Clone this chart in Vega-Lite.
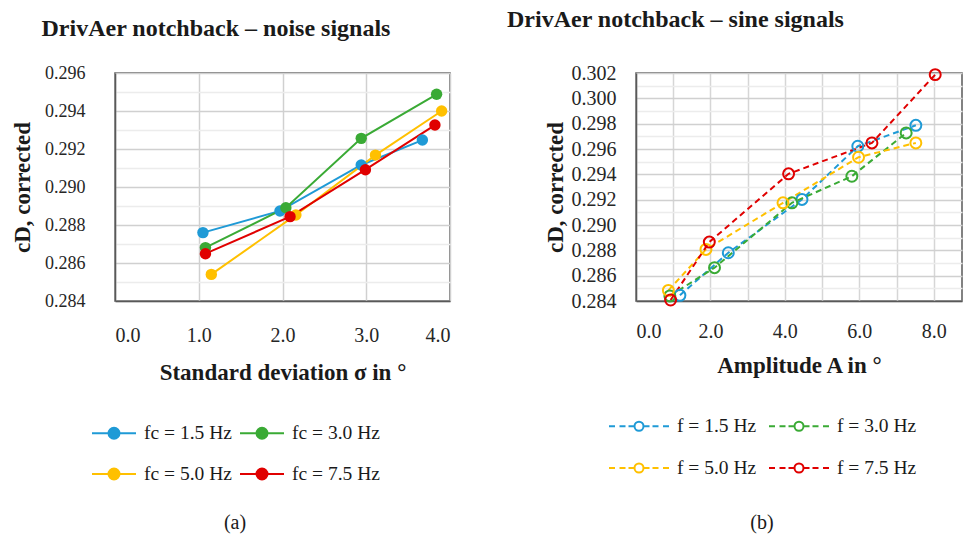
{
  "$schema": "https://vega.github.io/schema/vega-lite/v6.json",
  "background": "white",
  "padding": {"left": 10, "top": 7, "right": 0, "bottom": 0},
  "config": {
    "font": "Liberation Serif",
    "view": {"stroke": "#595959", "strokeWidth": 1.5},
    "axis": {"labelFontSize": 20, "labelColor": "#262626", "titleFontSize": 23, "titleFontWeight": "bold", "titleColor": "#1a1a1a", "ticks": false, "domainColor": "#595959", "domainWidth": 1.5, "gridWidth": 1.5},
    "legend": {"labelFontSize": 19.5, "labelColor": "#1a1a1a", "titleFontSize": 20, "titleColor": "#1a1a1a"},
    "title": {"font": "Liberation Serif", "fontSize": 24, "fontWeight": "bold", "color": "#1a1a1a"}
  },
  "resolve": {"scale": {"color": "independent", "x": "independent", "y": "independent"}, "legend": {"color": "independent"}},
  "spacing": 55,
  "hconcat": [
    {
      "width": 335,
      "height": 228,
      "title": {"text": "DrivAer notchback – noise signals", "anchor": "start", "frame": "bounds", "dx": 30, "offset": 23},
      "data": {"values": [
        {"s": "fc = 1.5 Hz", "x": 1.05, "y": 0.2876},
        {"s": "fc = 1.5 Hz", "x": 1.97, "y": 0.28874},
        {"s": "fc = 1.5 Hz", "x": 2.94, "y": 0.29116},
        {"s": "fc = 1.5 Hz", "x": 3.67, "y": 0.29247},
        {"s": "fc = 3.0 Hz", "x": 1.08, "y": 0.28681},
        {"s": "fc = 3.0 Hz", "x": 2.04, "y": 0.28891},
        {"s": "fc = 3.0 Hz", "x": 2.94, "y": 0.29256},
        {"s": "fc = 3.0 Hz", "x": 3.84, "y": 0.29488},
        {"s": "fc = 5.0 Hz", "x": 1.15, "y": 0.2854},
        {"s": "fc = 5.0 Hz", "x": 2.16, "y": 0.28853},
        {"s": "fc = 5.0 Hz", "x": 3.11, "y": 0.29168},
        {"s": "fc = 5.0 Hz", "x": 3.9, "y": 0.294},
        {"s": "fc = 7.5 Hz", "x": 1.08, "y": 0.28649},
        {"s": "fc = 7.5 Hz", "x": 2.09, "y": 0.28844},
        {"s": "fc = 7.5 Hz", "x": 2.99, "y": 0.29091},
        {"s": "fc = 7.5 Hz", "x": 3.82, "y": 0.29326}
      ]},
      "encoding": {
        "x": {"field": "x", "type": "quantitative", "scale": {"domain": [0, 4], "nice": false},
              "axis": {"title": "Standard deviation σ in °", "values": [0, 1, 2, 3, 4], "format": ".1f", "labelPadding": 24, "titlePadding": 16, "gridColor": "#d0d0d0"}},
        "y": {"field": "y", "type": "quantitative", "scale": {"domain": [0.284, 0.296], "nice": false, "zero": false},
              "axis": {"title": "cD, corrected", "values": [0.284, 0.285, 0.286, 0.287, 0.288, 0.289, 0.29, 0.291, 0.292, 0.293, 0.294, 0.295, 0.296],
                       "labelExpr": "round(datum.value*1000) % 2 == 0 ? format(datum.value, '.3f') : ''",
                       "labelPadding": 30, "titlePadding": 10, "labelFontSize": 18,
                       "gridColor": {"condition": {"test": "round(datum.value*1000) % 2 == 0", "value": "#d0d0d0"}, "value": "#ececec"}}},
        "color": {"field": "s", "type": "nominal",
                  "scale": {"domain": ["fc = 1.5 Hz", "fc = 3.0 Hz", "fc = 5.0 Hz", "fc = 7.5 Hz"], "range": ["#1f9ad6", "#3aaa35", "#ffc000", "#e00000"]},
                  "legend": {"orient": "none", "legendX": -24, "legendY": 337, "columns": 2, "direction": "horizontal",
                             "title": "(a)", "titleOrient": "bottom", "titleAnchor": "middle", "titleFontWeight": "normal", "titlePadding": 29,
                             "symbolType": "M-1,0L1,0M-0.25,0A0.25,0.25 0 1,1 0.25,0A0.25,0.25 0 1,1 -0.25,0Z",
                             "symbolSize": 1936, "symbolStrokeWidth": 2, "symbolOpacity": 1, "labelOffset": 7, "columnPadding": 4, "rowPadding": 8,
                             "encode": {"symbols": {"update": {
                               "fill": {"signal": "datum.value == 'fc = 1.5 Hz' ? '#1f9ad6' : datum.value == 'fc = 3.0 Hz' ? '#3aaa35' : datum.value == 'fc = 5.0 Hz' ? '#ffc000' : '#e00000'"},
                               "stroke": {"signal": "datum.value == 'fc = 1.5 Hz' ? '#1f9ad6' : datum.value == 'fc = 3.0 Hz' ? '#3aaa35' : datum.value == 'fc = 5.0 Hz' ? '#ffc000' : '#e00000'"}}}}}}
      },
      "layer": [
        {"mark": {"type": "line", "strokeWidth": 2}},
        {"mark": {"type": "point", "filled": true, "size": 130, "opacity": 1}}
      ]
    },
    {
      "width": 326,
      "height": 228,
      "title": {"text": "DrivAer notchback – sine signals", "anchor": "start", "frame": "bounds", "dx": -37, "offset": 31},
      "data": {"values": [
        {"s": "f = 1.5 Hz", "x": 1.18, "y": 0.28445},
        {"s": "f = 1.5 Hz", "x": 2.48, "y": 0.28781},
        {"s": "f = 1.5 Hz", "x": 4.46, "y": 0.29202},
        {"s": "f = 1.5 Hz", "x": 5.96, "y": 0.29622},
        {"s": "f = 1.5 Hz", "x": 7.52, "y": 0.29787},
        {"s": "f = 3.0 Hz", "x": 0.91, "y": 0.2844},
        {"s": "f = 3.0 Hz", "x": 2.11, "y": 0.28663},
        {"s": "f = 3.0 Hz", "x": 4.19, "y": 0.29175},
        {"s": "f = 3.0 Hz", "x": 5.8, "y": 0.29385},
        {"s": "f = 3.0 Hz", "x": 7.26, "y": 0.29727},
        {"s": "f = 5.0 Hz", "x": 0.87, "y": 0.28484},
        {"s": "f = 5.0 Hz", "x": 1.88, "y": 0.28807},
        {"s": "f = 5.0 Hz", "x": 3.95, "y": 0.29175},
        {"s": "f = 5.0 Hz", "x": 5.98, "y": 0.29535},
        {"s": "f = 5.0 Hz", "x": 7.52, "y": 0.29648},
        {"s": "f = 7.5 Hz", "x": 0.93, "y": 0.28408},
        {"s": "f = 7.5 Hz", "x": 1.97, "y": 0.28865},
        {"s": "f = 7.5 Hz", "x": 4.1, "y": 0.29404},
        {"s": "f = 7.5 Hz", "x": 6.34, "y": 0.29648},
        {"s": "f = 7.5 Hz", "x": 8.04, "y": 0.30187}
      ]},
      "encoding": {
        "x": {"field": "x", "type": "quantitative", "scale": {"domain": [0, 8.76], "nice": false},
              "axis": {"title": "Amplitude A in °", "values": [0, 1, 2, 3, 4, 5, 6, 7, 8],
                       "labelExpr": "datum.value % 2 == 0 ? format(datum.value, '.1f') : ''",
                       "labelPadding": 20, "titlePadding": 13, "gridColor": "#d6d6d6"}},
        "y": {"field": "y", "type": "quantitative", "scale": {"domain": [0.284, 0.302], "nice": false, "zero": false},
              "axis": {"title": "cD, corrected", "values": [0.284, 0.285, 0.286, 0.287, 0.288, 0.289, 0.29, 0.291, 0.292, 0.293, 0.294, 0.295, 0.296, 0.297, 0.298, 0.299, 0.3, 0.301, 0.302],
                       "labelExpr": "round(datum.value*1000) % 2 == 0 ? format(datum.value, '.3f') : ''",
                       "labelPadding": 20, "titlePadding": 4, "labelFontSize": 20,
                       "gridColor": {"condition": {"test": "round(datum.value*1000) % 2 == 0", "value": "#d0d0d0"}, "value": "#ececec"}}},
        "color": {"field": "s", "type": "nominal",
                  "scale": {"domain": ["f = 1.5 Hz", "f = 3.0 Hz", "f = 5.0 Hz", "f = 7.5 Hz"], "range": ["#1f9ad6", "#3aaa35", "#ffc000", "#e00000"]},
                  "legend": {"orient": "none", "legendX": -28, "legendY": 322, "columns": 2, "direction": "horizontal",
                             "title": "(b)", "titleOrient": "bottom", "titleAnchor": "middle", "titleFontWeight": "normal", "titlePadding": 35,
                             "symbolType": "M-1,0L-0.8,0M-0.65,0L-0.45,0M-0.35,0L-0.18,0M0.18,0L0.35,0M0.45,0L0.65,0M0.8,0L1,0M-0.15,0A0.15,0.15 0 1,1 0.15,0A0.15,0.15 0 1,1 -0.15,0Z",
                             "symbolSize": 3600, "symbolStrokeWidth": 2, "symbolOpacity": 1, "labelOffset": 7, "columnPadding": 8, "rowPadding": 1,
                             "encode": {"symbols": {"update": {
                               "fill": {"value": "white"},
                               "stroke": {"signal": "datum.value == 'f = 1.5 Hz' ? '#1f9ad6' : datum.value == 'f = 3.0 Hz' ? '#3aaa35' : datum.value == 'f = 5.0 Hz' ? '#ffc000' : '#e00000'"}}}}}}
      },
      "layer": [
        {"mark": {"type": "line", "strokeWidth": 2, "strokeDash": [6, 4]}},
        {"mark": {"type": "point", "filled": false, "size": 120, "strokeWidth": 2, "opacity": 1}}
      ]
    }
  ]
}
